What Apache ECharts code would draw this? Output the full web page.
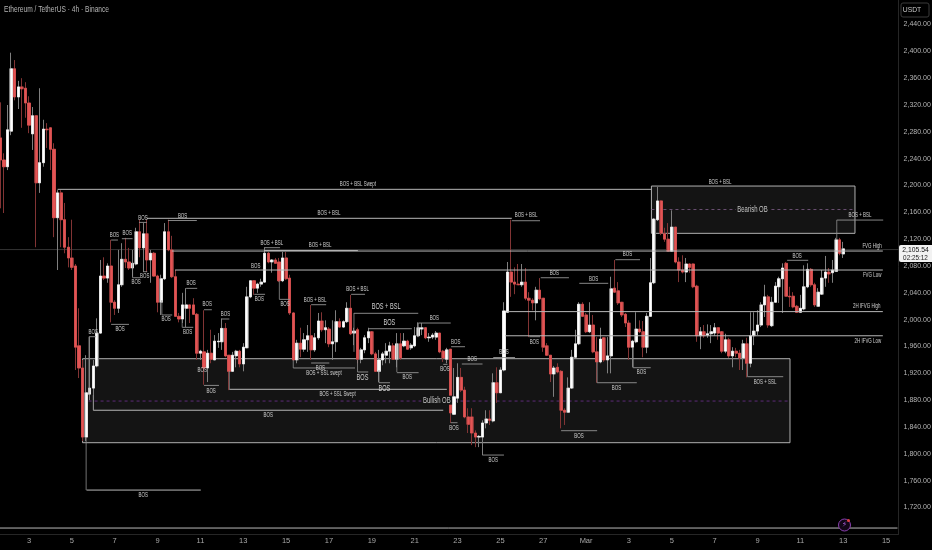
<!DOCTYPE html>
<html><head><meta charset="utf-8">
<style>html,body{margin:0;padding:0;background:#000}#c{width:932px;height:550px;filter:blur(0.35px)}</style>
<script src="https://cdn.jsdelivr.net/npm/echarts@6/dist/echarts.min.js"></script>
</head><body><div id="c"></div>
<script>
const chartTitle='Ethereum / TetherUS · 4h · Binance';
const currency='USDT';
const lastPrice='2,105.54';
const countdown='02:25:12';
const dayLabels=['3','5','7','9','11','13','15','17','19','21','23','25','27','Mar','3','5','7','9','11','13','15'];
const opens=[
2271,2238,2228,2281,2374,2332,2347,2345,2323,2277,
2304,2204,2234,2284,2286,2254,2152,2189,2149,2108,
2092,2080,1961,1928,1825,1889,1898,1931,1980,2065,
2062,2080,2026,2017,2052,2090,2086,2077,2083,2131,
2107,2128,2089,2099,2065,2026,2061,2131,2104,2064,
2005,2001,2017,2022,2022,2008,1950,1952,1928,1950,
1940,1967,1967,1987,1947,1923,1946,1953,1934,1958,
2034,2058,2047,2053,2056,2099,2086,2089,2086,2058,
2092,2062,2010,1940,1965,1956,1970,1976,1955,1973,
1998,1985,1986,1964,1967,1997,1989,1997,2017,1980,
1985,1941,1955,1973,1982,1949,1923,1940,1947,1953,
1961,1941,1964,1961,1968,1958,1961,1976,1986,1988,
1973,1974,1974,1980,1953,1941,1956,1859,1883,1914,
1895,1855,1855,1831,1825,1825,1846,1852,1849,1906,
1891,1925,2011,2071,2056,2053,2052,2056,2032,2029,
2025,2044,2032,1961,1947,1919,1929,1923,1865,1862,
1898,1944,1964,2023,2007,1982,1992,1952,1937,1973,
1940,1946,2047,2043,2026,2008,1995,1959,1967,1986,
1982,1959,2005,2055,2149,2177,2128,2120,2102,2138,
2086,2074,2071,2083,2083,2050,1976,1982,1977,1979,
1980,1988,1982,1953,1970,1946,1953,1950,1943,1964,
1935,1976,1983,1992,2022,2034,1991,2026,2049,2061,
2084,2035,2035,2020,2011,2016,2049,2075,2052,2020,
2038,2062,2071,2070,2072,2119,2098];
const closes=[
2238,2228,2283,2374,2332,2347,2344,2323,2290,2304,
2204,2234,2284,2283,2254,2152,2189,2149,2108,2092,
2078,1959,1928,1825,1891,1898,1931,1980,2065,2062,
2080,2026,2017,2052,2090,2086,2077,2084,2131,2107,
2128,2089,2099,2065,2026,2061,2131,2104,2064,2005,
2001,2022,2022,2017,2008,1950,1953,1928,1950,1941,
1968,1968,1987,1946,1923,1947,1953,1934,1959,2034,
2058,2047,2053,2056,2099,2086,2089,2084,2058,2092,
2061,2010,1940,1965,1956,1970,1976,1955,1973,1998,
1985,1988,1964,1967,1997,1989,1997,2017,1979,1983,
1941,1955,1973,1982,1949,1923,1940,1949,1953,1961,
1941,1964,1943,1968,1956,1962,1976,1988,1988,1973,
1974,1977,1980,1952,1943,1955,1861,1885,1914,1895,
1855,1844,1831,1825,1826,1846,1852,1850,1906,1891,
1925,2013,2071,2056,2053,2052,2056,2032,2029,2025,
2044,2031,1959,1947,1919,1928,1922,1865,1862,1898,
1944,1964,2023,2005,1982,1992,1952,1937,1971,1940,
1946,2046,2041,2025,2007,1995,1959,1968,1986,1982,
1959,2005,2055,2150,2177,2129,2120,2102,2138,2086,
2074,2071,2083,2078,2049,1976,1982,1976,1979,1982,
1988,1980,1953,1970,1946,1953,1950,1943,1964,1935,
1976,1983,1992,2022,2034,1992,2026,2050,2061,2077,
2035,2034,2019,2011,2017,2049,2075,2052,2022,2041,
2062,2071,2068,2074,2119,2099,2105.54];
const lows=[
2166,2159,2223,2275,2327,2314,2286,2301,2278,2253,
2108,2189,2228,2256,2223,2123,2074,2108,2099,2078,
2074,1925,1913,1819,1819,1880,1865,1929,1979,2059,
2055,1996,2007,2010,2049,2077,2074,2064,2081,2093,
2071,2071,2055,2064,2011,2007,2059,2102,2062,2004,
1996,1995,1989,1995,2007,1940,1940,1903,1907,1935,
1940,1958,1955,1944,1895,1922,1929,1929,1923,1958,
2032,2037,2040,2049,2055,2084,2070,2084,2056,2056,
2059,2007,1940,1935,1944,1952,1952,1940,1952,1970,
1982,1965,1959,1940,1952,1988,1988,1995,1977,1962,
1935,1935,1950,1965,1947,1922,1907,1932,1935,1935,
1940,1929,1940,1959,1955,1955,1959,1974,1977,1971,
1967,1971,1970,1950,1937,1935,1846,1858,1876,1892,
1853,1831,1813,1810,1810,1798,1838,1843,1847,1876,
1891,1923,2010,2034,2038,2052,2049,2029,1974,2014,
1999,2029,1952,1946,1907,1885,1920,1838,1843,1861,
1897,1943,1962,2004,1980,1980,1950,1906,1935,1937,
1920,1920,2040,2022,2004,1989,1940,1929,1965,1980,
1944,1950,2004,2053,2147,2126,2116,2101,2101,2084,
2056,2069,2056,2070,2047,1967,1956,1973,1973,1965,
1976,1970,1950,1950,1943,1929,1944,1925,1925,1914,
1929,1962,1977,1989,2004,1988,1989,2025,2025,2010,
2034,2019,2017,2010,2010,2014,2047,2049,2019,2019,
2037,2049,2055,2055,2071,2096,2092];
const highs=[
2324,2248,2320,2398,2387,2356,2360,2354,2333,2317,
2305,2345,2298,2293,2287,2263,2193,2193,2174,2123,
2149,2083,2017,1940,1947,1974,1940,2002,2089,2093,
2084,2119,2029,2104,2114,2122,2107,2104,2137,2149,
2144,2149,2104,2101,2067,2067,2144,2149,2125,2074,
2010,2040,2047,2022,2032,2010,1955,2014,1955,1985,
1977,1980,2002,1995,1947,1952,1955,1955,1965,2049,
2059,2059,2055,2061,2107,2101,2090,2092,2092,2101,
2101,2067,2011,1970,1988,1980,1992,2022,1980,2010,
2011,1999,1989,1999,2014,2002,1999,2026,2037,1988,
1988,1958,1977,1988,1983,1952,1955,1952,1965,1967,
1965,1980,1980,1980,1970,1965,1989,1996,1995,1989,
1980,1980,1983,1980,1955,1958,1956,1928,1935,1928,
1900,1868,1868,1835,1828,1850,1865,1865,1920,1929,
1929,2026,2086,2149,2078,2083,2083,2077,2041,2032,
2049,2062,2032,1965,1947,1931,1935,1925,1868,1914,
1955,1985,2026,2026,2010,2026,2007,1974,1988,1973,
1974,2064,2089,2056,2026,2010,1999,1970,2011,1999,
1998,2010,2092,2151,2198,2178,2137,2144,2163,2138,
2093,2096,2092,2084,2084,2052,1989,1992,1993,1992,
1995,1989,1983,1979,1973,1959,1958,1955,1970,1973,
2011,2011,2014,2026,2052,2037,2034,2056,2064,2084,
2086,2049,2041,2022,2037,2081,2084,2077,2055,2047,
2074,2095,2077,2089,2122,2122,2116];
// zones: startBar, endBar, top price, bottom price, mid price
const obZones=[[182.3,239.3,2199.2,2128.7,2164.2],[23,221.1,1941.8,1816.6,1878.7]];
// long levels: startBar, endBar, price
const longLevels=[[16,182.2,2194.3],[41,143.2,2151.1],[48,247.1,2102.3],[73.8,100.1,2103],[48.9,247.1,2074],
[141.9,247.1,2012],[141.3,247.1,1976],[64.1,125,1896.2],[26,124,1865],[24.1,56.1,1746],[-0.5,251.2,1689.4]];
// short structure breaks: startBar, endBar, price
const shortLevels=[[31,32.9,2118.7],[34,37,2120.7],[38.8,41,2145],[46.9,55,2147.8],[24.8,26.8,1974.6],[37,39.1,2062.5],
[40,41.1,2071.5],[31,36,1993],[45.2,48.1,2007],[52,55.1,2046.7],[50.9,54,1988.6],[57,59.2,2014.8],[62,64.1,2001],
[57,61.2,1902],[73.8,78.3,2107.3],[71.1,74.1,2037.8],[78.1,81.1,2030.3],[98.2,102.1,2037.8],[87,91.2,2022.3],
[99,117,2009.5],[103,115.2,1986.5],[117,126.1,1995],[126.2,130.1,1959.7],[129.2,135,1933.9],[138,144.1,1943.6],
[87,92.1,1935.4],[82,99.3,1928],[100,103,1922],[106,109.1,1906],[111,117.1,1921],[124,125.2,1933.4],[126.1,128,1846.4],
[135,141,1798.2],[143.2,151.1,2147.5],[151.3,159.2,2062.5],[162.1,170.2,2054.2],[172.2,179.1,2089.4],[148.1,151.1,1974.6],
[177.2,182.1,1928.4],[167.1,178.2,1906],[157,167.1,1834.5],[234.2,247.2,2148.5],[220.3,226.2,2088.5],[209.2,219.2,1915]];
// connectors: bar, price from, price to
const connectors=[[24,1825,1746],[24.8,1974.6,1887.7],[26,1887.7,1865],[64.1,1923.5,1896.2],[82,1940,1928],[99,2010,1952],
[111,1965,1922],[106,1925,1906],[100,1940,1922],[117,1995,1974],[234.2,2148.5,2119],[37,2086,2062.5],[209.2,1935,1915],
[177.2,1959,1928],[167.1,1937,1906],[45.2,2029,2007],[50.9,2001,1988.6],[78.1,2058,2030.3]];
// labels: text, bar, price
const smallLabels=[['BOS + BSL Swept',100.1,2201.8],['BOS + BSL',92,2159.4],['BOS + BSL',89.5,2110.8],['BOS + BSL',76,2113.8],
['BOS + BSL',100,2046.1],['BOS + BSL',88.1,2029.7],['BOS',121.5,2002],['BOS',127.5,1966.7],['BOS',132.1,1941.3],['BOS',141,1951.3],
['BOS',89.6,1928.4],['BOS + SSL swept',90.6,1920],['BOS',113.9,1914],['BOS',124.5,1926.4],['BOS',127,1838.5],['BOS',138,1791.2],
['BOS + SSL Swept',94.4,1888.7],['BOS',75,1857.4],['BOS',40,1739],['BOS',26,1982],['BOS',31.9,2126.6],['BOS',35.5,2128.7],
['BOS',39.9,2152],['BOS',51,2154.5],['BOS',38,2055.7],['BOS',40.4,2065],['BOS',33.5,1985.6],['BOS',46.4,2000.5],['BOS',53.4,2054],
['BOS',52.4,1981],['BOS',57.9,2023],['BOS',63,2008.4],['BOS',56.5,1924],['BOS',59,1894],['BOS',71.5,2080],['BOS',72.5,2030.3],
['BOS',79.7,2023],['BOS + BSL',147.2,2155.5],['BOS',155.1,2070],['BOS',166.1,2061],['BOS',175.6,2097],['BOS',149.5,1966.7],
['BOS',179.5,1921],['BOS',172.5,1898.5],['BOS',162,1826.6],['BOS + BSL',201.5,2205.6],['BOS + BSL',240.7,2155.5],['BOS',223.1,2095.3],
['BOS + SSL',214.1,1907.5],['FVG High',244.1,2109.8],['FVG Low',244.1,2066.5],['2H IFVG High',242.6,2019.6],['2H IFVG Low',242.9,1968.6]];
const largeLabels=[['BOS + BSL',108,2018.9],['BOS',108.9,1996],['BOS',101.4,1914],['BOS',107.5,1897.6]];
const zoneLabels=[['Bearish OB',210.6,2164.2],['Bullish OB',122.2,1880]];
const priceLine=[[-0.5,251.5,2104.5]];

const FONT='"Liberation Sans",sans-serif';
const RED='#e35454', WHITE='#ffffff', RWICK='#823434', WWICK='#7f7f7f';
const categories=[];
for(let i=0;i<252;i++){const k=(i-8)/12;categories.push(Number.isInteger(k)&&dayLabels[k]?dayLabels[k]:'');}
const wickData=opens.map((o,i)=>[o,closes[i],lows[i],highs[i]]);
const bodyData=opens.map((o,i)=>{const c=closes[i];return [o,c,Math.min(o,c),Math.max(o,c)];});

function hSeg(rows,stroke,lw,z){return{type:'custom',xAxisIndex:1,yAxisIndex:0,z,silent:true,clip:false,
  data:rows.map(r=>[r[0],r[2]]),encode:{x:0,y:1},
  renderItem(p,api){const r=rows[p.dataIndex];const a=api.coord([r[0],r[2]]),b=api.coord([r[1],r[2]]);
    return{type:'line',shape:{x1:a[0],y1:a[1],x2:b[0],y2:b[1]},style:{stroke,lineWidth:lw}};}};}
function vSeg(rows,stroke,lw,z){return{type:'custom',xAxisIndex:1,yAxisIndex:0,z,silent:true,clip:false,
  data:rows.map(r=>[r[0],r[1]]),encode:{x:0,y:1},
  renderItem(p,api){const r=rows[p.dataIndex];const a=api.coord([r[0],r[1]]),b=api.coord([r[0],r[2]]);
    return{type:'line',shape:{x1:a[0],y1:a[1],x2:b[0],y2:b[1]},style:{stroke,lineWidth:lw}};}};}
function txt(rows,size,sx,fill,z,bg){return{type:'custom',xAxisIndex:1,yAxisIndex:0,z,silent:true,clip:false,
  data:rows.map(r=>[r[1],r[2]]),encode:{x:0,y:1},
  renderItem(p,api){const r=rows[p.dataIndex];const a=api.coord([r[1],r[2]]);
    return{type:'text',x:a[0],y:a[1],scaleX:sx,style:{text:r[0],fill,font:size+'px '+FONT,align:'center',verticalAlign:'middle',
      backgroundColor:bg||'transparent',padding:bg?[0,2]:0}};}};}

const chart=echarts.init(document.getElementById('c'),null,{renderer:'canvas',width:932,height:550});
chart.setOption({
  animation:false,backgroundColor:'#000',
  grid:{left:-1.35,top:-2.33,width:899.9,height:536.67,containLabel:false,outerBoundsMode:'none'},
  xAxis:[{type:'category',data:categories,boundaryGap:true,
      axisLine:{lineStyle:{color:'#262626'}},axisTick:{show:false},splitLine:{show:false},
      axisLabel:{interval:0,margin:3,color:'#a8a8a8',fontSize:7.5,fontFamily:FONT,hideOverlap:false}},
    {type:'value',show:false,min:-0.5,max:251.5,splitLine:{show:false}}],
  yAxis:{type:'value',position:'right',min:1680,max:2480,interval:40,scale:true,
    axisLine:{show:true,onZero:false,lineStyle:{color:'#262626'}},axisTick:{show:false},splitLine:{show:false},
    axisLabel:{margin:5,color:'#b4b4b4',fontSize:7,fontFamily:FONT,
      formatter:v=>(v===1680||v===2480)?'':v.toLocaleString('en-US',{minimumFractionDigits:2,maximumFractionDigits:2})}},
  graphic:[
    {type:'text',x:4,y:10,scaleX:0.78,style:{text:chartTitle,fill:'#b4b4b4',font:'8.5px '+FONT,align:'left',verticalAlign:'middle'},z:51},
    {type:'rect',shape:{x:901,y:3,width:28,height:14,r:2},style:{fill:'#000',stroke:'#3a3a3a',lineWidth:1},z:50},
    {type:'text',x:912,y:10,scaleX:0.85,style:{text:currency,fill:'#c8c8c8',font:'8px '+FONT,align:'center',verticalAlign:'middle'},z:51},
    {type:'rect',shape:{x:899,y:245,width:33,height:17,r:[2,0,0,2]},style:{fill:'#f2f2f2'},z:50},
    {type:'text',x:915.5,y:249.5,scaleX:0.85,style:{text:lastPrice,fill:'#111',font:'8px '+FONT,align:'center',verticalAlign:'middle'},z:51},
    {type:'text',x:915.5,y:257.5,scaleX:0.85,style:{text:countdown,fill:'#222',font:'7.5px '+FONT,align:'center',verticalAlign:'middle'},z:51},
    {type:'circle',shape:{cx:844.5,cy:525,r:6},style:{fill:'#120716',stroke:'#8a3fb0',lineWidth:1},z:50},
    {type:'text',x:844.5,y:525,style:{text:'⚡',fill:'#a55ad0',font:'8px "DejaVu Sans"',align:'center',verticalAlign:'middle'},z:51},
    {type:'circle',shape:{cx:848.5,cy:520.5,r:1.5},style:{fill:'#e04040'},z:52}
  ],
  series:[
    {type:'custom',xAxisIndex:1,yAxisIndex:0,z:1,silent:true,clip:false,data:obZones.map(r=>[r[0],r[2]]),encode:{x:0,y:1},
     renderItem(p,api){const r=obZones[p.dataIndex];const a=api.coord([r[0],r[2]]),b=api.coord([r[1],r[3]]),m=api.coord([r[0],r[4]]),n=api.coord([r[1],r[4]]);
       return{type:'group',children:[
        {type:'rect',shape:{x:a[0],y:a[1],width:b[0]-a[0],height:b[1]-a[1]},style:{fill:'#141414',stroke:'#b0b0b0',lineWidth:1}},
        {type:'line',shape:{x1:m[0],y1:m[1],x2:n[0],y2:n[1]},style:{stroke:p.dataIndex?'#5d2b78':'#6a5072',lineWidth:1,lineDash:[3,3]}}]};}},
    hSeg(priceLine,'#4a4a4a',0.7,2),
    {type:'candlestick',name:'wicks',z:3,silent:true,barWidth:3,data:wickData,xAxisIndex:0,yAxisIndex:0,
     itemStyle:{color:WWICK,color0:RWICK,borderColor:WWICK,borderColor0:RWICK,borderWidth:1}},
    {type:'candlestick',name:'bodies',z:4,silent:true,barWidth:2.6,data:bodyData,xAxisIndex:0,yAxisIndex:0,
     itemStyle:{color:WHITE,color0:RED,borderColor:WHITE,borderColor0:RED,borderWidth:0.6}},
    hSeg(longLevels,'#b8b8b8',1,5),
    hSeg(shortLevels,'#959595',0.9,5),
    vSeg(connectors,'#8f8f8f',0.8,5),
    txt(smallLabels,6.5,0.68,'#d0d0d0',6),
    txt(largeLabels,8.5,0.66,'#d0d0d0',6),
    txt(zoneLabels,8.5,0.7,'#c4c4c4',6,'#141414')
  ]
});
</script></body></html>
